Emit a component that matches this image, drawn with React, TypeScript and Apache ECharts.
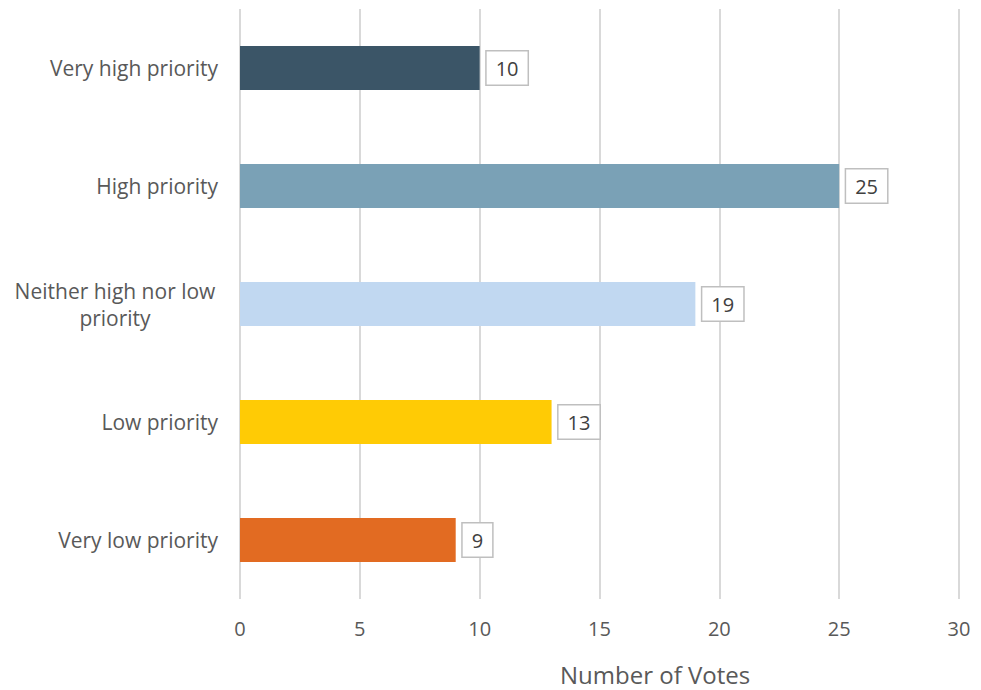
import React, { useEffect, useRef } from "react";
import * as echarts from "echarts";

const categories = [
  "Very high priority",
  "High priority",
  "Neither high nor low priority",
  "Low priority",
  "Very low priority",
];
const votes = [10, 25, 19, 13, 9];
const barColors = ["#3b5567", "#7aa1b6", "#c1d8f1", "#ffcb05", "#e26b22"];
const xTicks = { min: 0, max: 30, interval: 5 };
const axisTitle = "Number of Votes";

const FONT = "'Open Sans', sans-serif";

export default function App() {
  const ref = useRef<HTMLDivElement>(null);
  useEffect(() => {
    if (!ref.current) return;
    const chart = echarts.init(ref.current, null, { renderer: "svg" });
    chart.setOption({
      animation: false,
      backgroundColor: "#ffffff",
      grid: { left: 240, right: 22, top: 9, bottom: 91, containLabel: false },
      xAxis: {
        type: "value",
        min: xTicks.min,
        max: xTicks.max,
        interval: xTicks.interval,
        axisLine: { show: false },
        axisTick: { show: false },
        splitLine: { show: true, lineStyle: { color: "#d9d9d9", width: 2 } },
        axisLabel: { color: "#595959", fontSize: 20, fontFamily: FONT, margin: 19 },
      },
      yAxis: {
        type: "category",
        inverse: true,
        data: categories,
        axisLine: { show: false },
        axisTick: { show: false },
        axisLabel: {
          color: "#595959",
          fontSize: 21,
          fontFamily: FONT,
          margin: 22,
          formatter: (v: string) =>
            v === "Neither high nor low priority"
              ? "{c|Neither high nor low}\n{c|priority}"
              : v,
          rich: {
            c: {
              width: 206,
              align: "center",
              color: "#595959",
              fontSize: 21,
              fontFamily: FONT,
              lineHeight: 27,
            },
          },
        },
      },
      series: [
        {
          type: "bar",
          barWidth: 44,
          data: votes.map((v, i) => ({ value: v, itemStyle: { color: barColors[i] } })),
          label: {
            show: true,
            position: "right",
            distance: 7,
            color: "#404040",
            fontSize: 20,
            fontFamily: FONT,
            backgroundColor: "#ffffff",
            borderColor: "#bfbfbf",
            borderWidth: 1.5,
            padding: [7, 9, 6, 9],
          },
        },
      ],
      graphic: [
        {
          type: "text",
          left: 560,
          top: 662,
          style: {
            text: axisTitle,
            fill: "#595959",
            fontSize: 24,
            fontFamily: FONT,
          },
        },
      ],
    });
    return () => chart.dispose();
  }, []);
  return (
    <div
      ref={ref}
      style={{ position: "fixed", left: 0, top: 0, width: 981, height: 690 }}
    />
  );
}
